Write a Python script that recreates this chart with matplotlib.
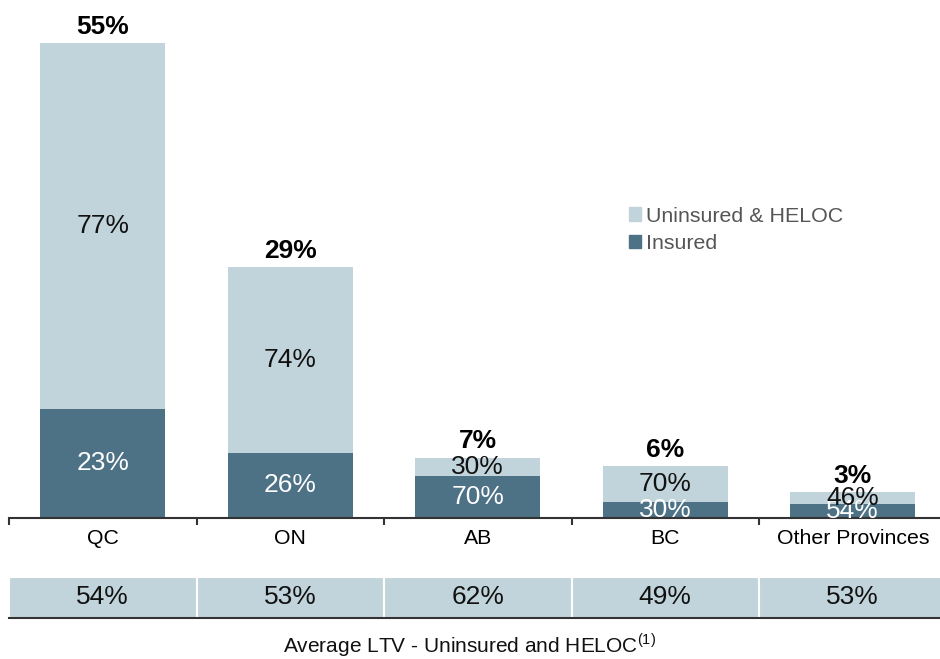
import matplotlib.pyplot as plt
from matplotlib.patches import Patch

plt.rcParams['font.family'] = ['Liberation Sans', 'DejaVu Sans']
plt.rcParams['mathtext.fontset'] = 'custom'
plt.rcParams['mathtext.rm'] = 'Liberation Sans'

# data
provinces = ["QC", "ON", "AB", "BC", "Other Provinces"]
totals = [55, 29, 7, 6, 3]              # share of portfolio (%)
insured_pct = [23, 26, 70, 30, 54]      # insured share within province (%)
uninsured_pct = [77, 74, 30, 70, 46]    # uninsured & HELOC share (%)
avg_ltv = [54, 53, 62, 49, 53]          # average LTV - uninsured and HELOC

light = "#C2D4DB"
dark = "#4D7185"

W, H = 940, 659
fig = plt.figure(figsize=(W / 100, H / 100), dpi=100)

# main bar axes: baseline at y=518 px, 8.64 px per unit
base = 518
ax = fig.add_axes([9 / W, (H - base) / H, 937.5 / W, base / H])
x = list(range(len(provinces)))
ins_h = [t * p / 100 for t, p in zip(totals, insured_pct)]
unins_h = [t * p / 100 for t, p in zip(totals, uninsured_pct)]
ax.bar(x, ins_h, width=0.667, color=dark, label="Insured")
ax.bar(x, unins_h, bottom=ins_h, width=0.667, color=light, label="Uninsured & HELOC")
ax.set_xlim(-0.5, 4.5)
ax.set_ylim(0, base / 8.64)

for i in x:
    ax.text(i, ins_h[i] / 2, f"{insured_pct[i]}%", ha="center", va="center",
            fontsize=19, color="white", clip_on=True)
    ax.text(i, ins_h[i] + unins_h[i] / 2, f"{uninsured_pct[i]}%", ha="center",
            va="center", fontsize=19, color="#111111", clip_on=True)
    ax.annotate(f"{totals[i]}%", (i, totals[i]), xytext=(0, 3),
                textcoords="offset points", ha="center", va="bottom",
                fontsize=19, fontweight="bold", color="black")

for s in ["top", "right", "left"]:
    ax.spines[s].set_visible(False)
ax.spines["bottom"].set_color("#333333")
ax.spines["bottom"].set_linewidth(1.5)
ax.set_yticks([])
ax.set_xticks([i - 0.5 for i in range(6)])
ax.set_xticklabels([])
ax.tick_params(axis="x", which="major", length=5, width=1.5, color="#333333")
ax.set_xticks(x, minor=True)
ax.set_xticklabels(provinces, minor=True, fontsize=15.3)
ax.tick_params(axis="x", which="minor", length=0, pad=8)

handles = [Patch(color=light, label="Uninsured & HELOC"),
           Patch(color=dark, label="Insured")]
leg = ax.legend(handles=handles, loc="upper left",
                bbox_to_anchor=((620 - 9) / 937.5, (base - 198) / base),
                frameon=False, fontsize=15.4, handlelength=0.6, handleheight=0.6,
                handletextpad=0.2, labelspacing=0.4, borderaxespad=0)
for t in leg.get_texts():
    t.set_color("#555555")

# LTV table row
ax2 = fig.add_axes([9 / W, (H - 618) / H, 937.5 / W, 41 / H])
ax2.bar(x, [1] * len(x), width=1, color=light, edgecolor="white", linewidth=1.5)
for i in x:
    ax2.text(i, 0.5, f"{avg_ltv[i]}%", ha="center", va="center", fontsize=19,
             color="#111111")
ax2.set_xlim(-0.5, 4.5)
ax2.set_ylim(0, 1)
ax2.axis("off")
ax2.axhline(0, color="#333333", linewidth=1.5, clip_on=False)

fig.text(470 / W, (H - 645) / H, r"Average LTV - Uninsured and HELOC$^{\mathrm{(1)}}$",
         ha="center", va="center", fontsize=15, color="#111111")

fig.savefig("out.png", dpi=100)
